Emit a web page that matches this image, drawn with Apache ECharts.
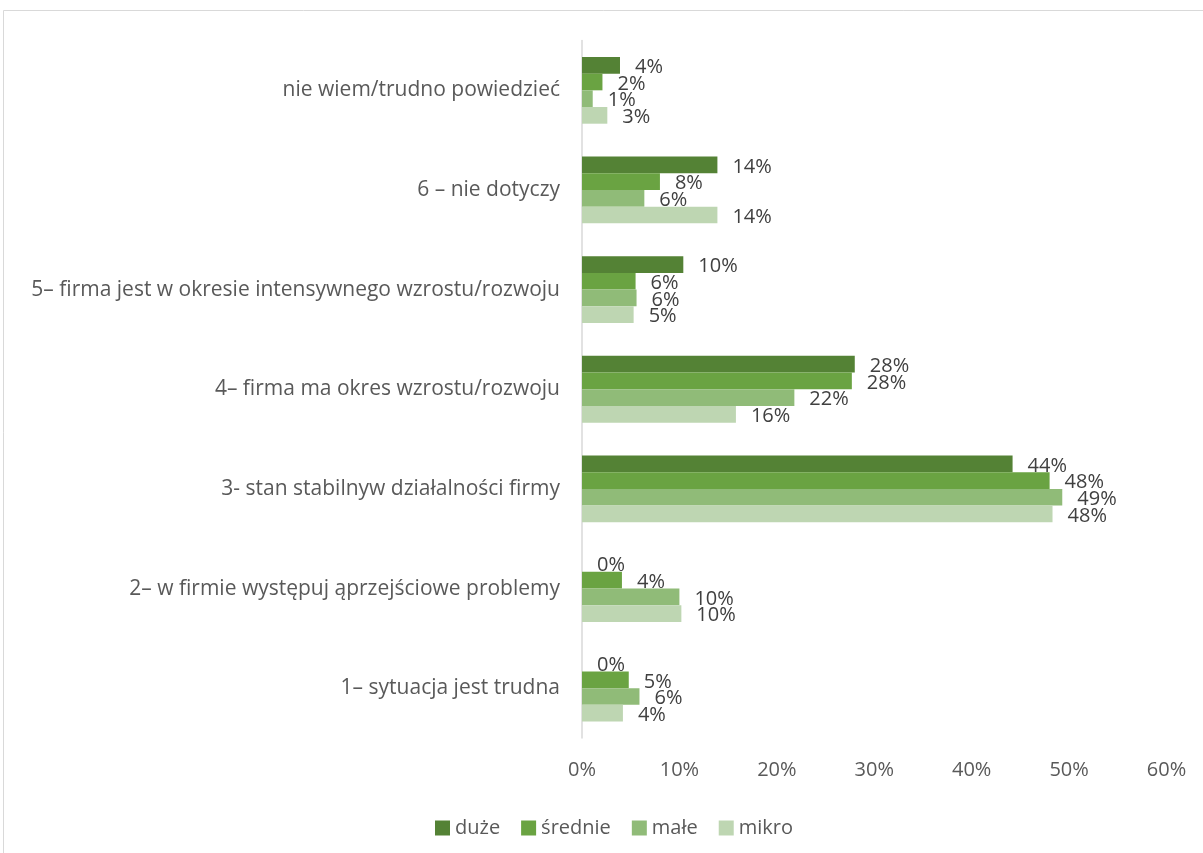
<!DOCTYPE html>
<html>
<head>
<meta charset="utf-8">
<script src="https://cdn.jsdelivr.net/npm/echarts@6/dist/echarts.min.js"></script>
<style>
html, body { margin: 0; padding: 0; background: #ffffff; }
#chart { width: 1203px; height: 853px; }
</style>
</head>
<body>
<div id="chart"></div>
<script>
// Categories listed bottom to top, as they appear on the y axis
const categories = [
  '1– sytuacja jest trudna',
  '2– w firmie występuj ąprzejściowe problemy',
  '3- stan stabilnyw działalności firmy',
  '4– firma ma okres wzrostu/rozwoju',
  '5– firma jest w okresie intensywnego wzrostu/rozwoju',
  '6 – nie dotyczy',
  'nie wiem/trudno powiedzieć'
];

// Share of firms (%) by company size, same order as categories
const duze    = [0.0, 0.0, 44.2, 28.0, 10.4, 13.9, 3.9];
const srednie = [4.8, 4.1, 48.0, 27.7, 5.5, 8.0, 2.1];
const male    = [5.9, 10.0, 49.3, 21.8, 5.6, 6.4, 1.1];
const mikro   = [4.2, 10.2, 48.3, 15.8, 5.3, 13.9, 2.6];

const seriesNames = ['duże', 'średnie', 'małe', 'mikro'];
const seriesColors = ['#548235', '#6aa342', '#90bb78', '#bed6b2'];
const xTicks = [0, 10, 20, 30, 40, 50, 60];

const FONT = '"Open Sans", "Noto Sans", sans-serif';

const chart = echarts.init(document.getElementById('chart'), null, { renderer: 'canvas' });

function makeSeries(name, data, color) {
  return {
    name: name,
    type: 'bar',
    data: data,
    barGap: '0%',
    barCategoryGap: '33%',
    itemStyle: { color: color },
    label: {
      show: true,
      position: 'right',
      distance: 15,
      offset: [0, 2],
      color: '#404040',
      fontFamily: FONT,
      fontSize: 20,
      formatter: p => Math.round(p.value) + '%'
    }
  };
}

// First series sits at the top of each group
const seriesList = [
  makeSeries(seriesNames[0], duze, seriesColors[0]),
  makeSeries(seriesNames[1], srednie, seriesColors[1]),
  makeSeries(seriesNames[2], male, seriesColors[2]),
  makeSeries(seriesNames[3], mikro, seriesColors[3])
];

chart.setOption({
  animation: false,
  backgroundColor: '#ffffff',
  graphic: [{
    type: 'rect',
    shape: { x: 3.5, y: 10.5, width: 1400, height: 1000 },
    style: { fill: 'none', stroke: '#d9d9d9', lineWidth: 1 },
    silent: true
  }],
  legend: {
    data: seriesNames,
    left: 430,
    top: 813,
    itemWidth: 15,
    itemHeight: 15,
    itemGap: 21,
    icon: 'rect',
    textStyle: { color: '#595959', fontFamily: FONT, fontSize: 20 }
  },
  grid: { left: 582, right: 36.5, top: 40.5, bottom: 115 },
  xAxis: {
    type: 'value',
    min: xTicks[0],
    max: xTicks[xTicks.length - 1],
    interval: 10,
    axisLine: { show: false },
    axisTick: { show: false },
    splitLine: { show: false },
    axisLabel: {
      color: '#595959',
      fontFamily: FONT,
      fontSize: 20,
      margin: 22,
      formatter: v => v + '%'
    }
  },
  yAxis: {
    type: 'category',
    data: categories,
    axisLine: { show: true, lineStyle: { color: '#d9d9d9', width: 1.5 } },
    axisTick: { show: false },
    axisLabel: {
      color: '#595959',
      fontFamily: FONT,
      fontSize: 21,
      margin: 22
    }
  },
  series: seriesList
});
</script>
</body>
</html>
